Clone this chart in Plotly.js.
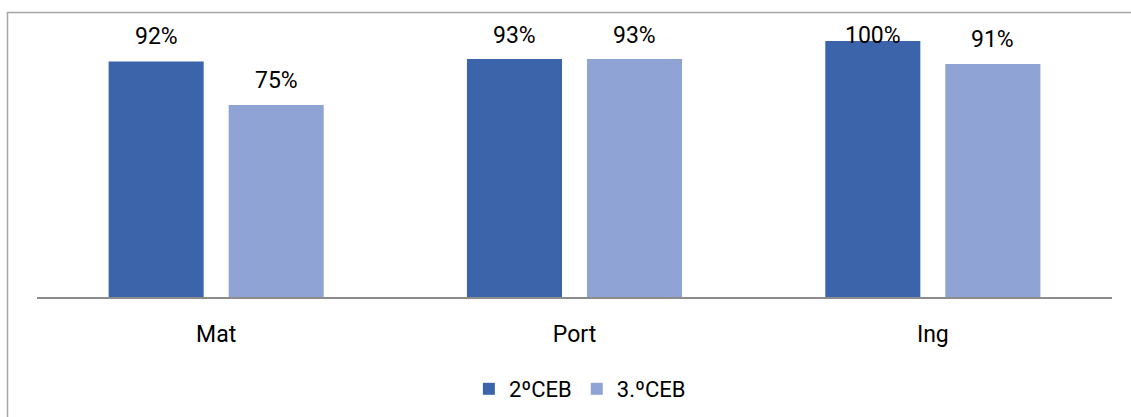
<!DOCTYPE html>
<html>
<head>
<meta charset="utf-8">
<script src="https://cdn.plot.ly/plotly-3.0.1.min.js"></script>
<style>
  html, body { margin: 0; padding: 0; background: #ffffff; }
  #chart { width: 1131px; height: 417px; }
</style>
</head>
<body>
<div id="chart"></div>
<script>
// ---- data ----
const categories = ["Mat", "Port", "Ing"];
const seriesNames = ["2ºCEB", "3.ºCEB"];
const values2CEB = [0.92, 0.93, 1.00];
const values3CEB = [0.75, 0.93, 0.91];

// ---- style ----
const colors = ["#3C64AB", "#8FA4D4"];
const FONT = 'Roboto, "DejaVu Sans Condensed", sans-serif';
const W = 1131, H = 417;
const M = { l: 37, r: 19, t: 15, b: 120, autoexpand: false };
const plotH = H - M.t - M.b;
const plotW = W - M.l - M.r;
const yMax = 1.1016;

const series = [values2CEB, values3CEB];
const traces = series.map((vals, i) => ({
  type: "bar",
  name: seriesNames[i],
  x: categories,
  y: vals,
  marker: { color: colors[i] },
  hoverinfo: "skip"
}));

// data labels
const groupShift = [-60, 60];
const annotations = [];
series.forEach((vals, i) => {
  vals.forEach((v, j) => {
    const barTopPx = M.t + plotH * (1 - v / yMax);
    const glyphBottom = Math.max(barTopPx - 17, 43);
    const yshift = barTopPx - glyphBottom - 8;
    annotations.push({
      x: categories[j], y: v, xref: "x", yref: "y",
      text: Math.round(v * 100) + "%",
      showarrow: false,
      xshift: groupShift[i],
      yshift: yshift,
      yanchor: "bottom",
      font: { family: FONT, size: 23, color: "#000000" }
    });
  });
});

const layout = {
  width: W, height: H,
  margin: M,
  paper_bgcolor: "#ffffff",
  plot_bgcolor: "#ffffff",
  barmode: "group",
  bargap: 0.33,
  bargroupgap: 0.208,
  showlegend: true,
  legend: {
    orientation: "h",
    x: 0.505, xanchor: "center",
    y: (M.t + plotH - 389) / plotH, yanchor: "middle",
    font: { family: FONT, size: 22, color: "#000000" },
    itemwidth: 30,
    traceorder: "normal"
  },
  xaxis: {
    showline: true, linecolor: "#8c8c8c", linewidth: 1.5,
    ticks: "", showgrid: false, zeroline: false,
    ticklabelstandoff: 16,
    tickfont: { family: FONT, size: 23, color: "#000000" }
  },
  yaxis: {
    range: [0, yMax],
    visible: false,
    showgrid: false, zeroline: false
  },
  annotations: annotations,
  shapes: [{
    type: "rect", xref: "paper", yref: "paper",
    x0: (7.5 - M.l) / plotW, x1: (1140 - M.l) / plotW,
    y0: (M.t + plotH - 430) / plotH, y1: (M.t + plotH - 12.5) / plotH,
    line: { color: "#a6a6a6", width: 1.5 },
    fillcolor: "rgba(0,0,0,0)", layer: "below"
  }]
};

Plotly.newPlot("chart", traces, layout, { displayModeBar: false, staticPlot: true });
</script>
</body>
</html>
